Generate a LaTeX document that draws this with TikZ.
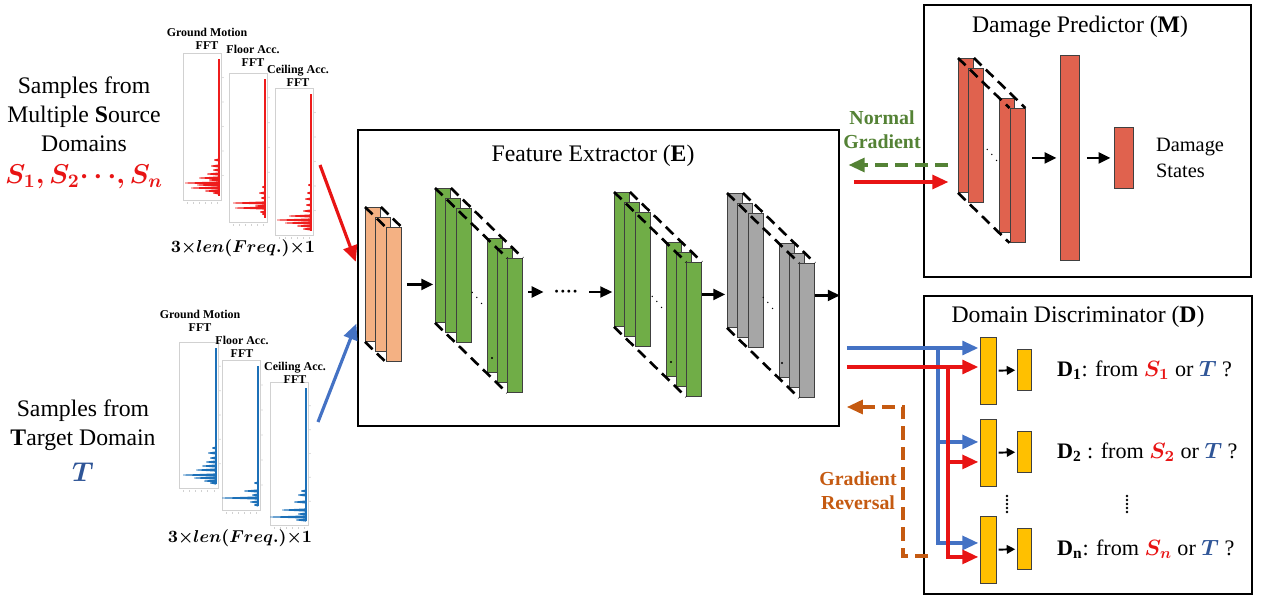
\documentclass[tikz,border=0pt]{standalone}
\usepackage{fix-cm}
\usepackage{amsmath,bm}
\usepackage{fontspec}
\setmainfont{Liberation Serif}
\usetikzlibrary{arrows.meta,positioning,calc}

\definecolor{srcred}{RGB}{232,20,20}
\definecolor{tgtblue}{RGB}{68,114,196}
\definecolor{symblue}{RGB}{47,85,151}
\definecolor{normgreen}{RGB}{84,130,53}
\definecolor{revbrown}{RGB}{197,90,17}
\definecolor{convorange}{RGB}{244,177,131}
\definecolor{convgreen}{RGB}{112,173,71}
\definecolor{convgray}{RGB}{166,166,166}
\definecolor{convred}{RGB}{224,98,78}
\definecolor{discyellow}{RGB}{255,192,0}
\definecolor{fftred}{RGB}{238,28,28}
\definecolor{fftblue}{RGB}{28,112,184}

\begin{document}
\begin{tikzpicture}[
  x=0.02cm, y=-0.02cm,
  >={Triangle[length=2.4mm,width=2.2mm]},
  node distance=4mm,
  panel/.style={draw, line width=1.1pt, anchor=north west, inner sep=0pt},
  heading/.style={font=\fontsize{13.5}{16.5}\selectfont, align=center},
  symb/.style={font=\fontsize{15.5}{18}\selectfont},
  plotlbl/.style={font=\bfseries\fontsize{6.8}{7.4}\selectfont, align=center, inner sep=0pt},
  dimlbl/.style={font=\fontsize{9.8}{11}\selectfont},
  fftbox/.style={draw=black!18, line width=0.4pt},
  slab/.style={draw=black!75, line width=0.5pt, fill=#1, anchor=north west,
               minimum width=0.3cm, minimum height=2.68cm, inner sep=0pt},
  bar/.style={slab=#1, minimum width=0.32cm, minimum height=1.34cm},
  depthline/.style={line width=1.5pt, dash pattern=on 6pt off 3.5pt},
  flow/.style={->, line width=1.3pt},
  sflow/.style={-{Triangle[length=1.7mm,width=1.7mm]}, line width=1.1pt},
  feed/.style={-{Triangle[length=3.2mm,width=2.8mm]}, line width=1.8pt},
  grad/.style={feed, dash pattern=on 7.5pt off 4pt},
  gradlbl/.style={font=\bfseries\fontsize{11.3}{13.8}\selectfont, align=center},
  qlbl/.style={font=\fontsize{12.6}{15}\selectfont},
  ellip/.style={font=\fontsize{7}{7}\selectfont, inner sep=0pt},
]
\useasboundingbox (0,0) rectangle (1261,595);

% ---- input samples (left column) -------------------------------------------
\node[heading] (srctxt) at (84,114) {Samples from\\Multiple \textbf{S}ource\\Domains};
\node[symb, text=srcred] (srcsym) at (84,177) {$\bm{S_1, S_2 \cdots, S_n}$};
\node[heading] (tgttxt) at (83,425) {Samples from\\\textbf{T}arget Domain};
\node[symb, text=symblue] (tgtsym) at (83,472) {$\bm{T}$};

% spectra: frame, axis ticks, signal and its peaks near the low end
\foreach \xa/\ya/\xb/\yb/\col/\spk in {
  183/53/221/200/fftred/{40/5,34/8,30/6,26/12,22/20,20/10,17/34,15/22,12/28,9/14,7/6},
  229/73/267/222/fftred/{35/3,29/6,24/4,19/32,16/10,14/30,10/5,8/3},
  275/88/313/235/fftred/{50/3,42/4,36/6,30/5,24/8,19/22,15/34,12/26,9/14,6/8},
  179/342/218/488/fftblue/{40/4,35/8,30/6,26/10,22/14,18/20,13/33,10/22,7/12,5/6},
  222/360/260/510/fftblue/{27/4,19/14,15/6,12/36,8/8,5/4},
  270/382/308/525/fftblue/{34/5,30/8,23/12,15/24,11/8,8/36,5/10}}
{
  \draw[fftbox] (\xa,\ya) rectangle (\xb,\yb);
  \foreach \tk in {0,...,5}
    \draw[fftbox] ({\xa+4+\tk*(\xb-\xa-8)/5},\yb+2) -- ++(0,2);
  \foreach \tk in {1,...,5}
    \fill[black!25] (\xb+2,{\ya+\tk*(\yb-\ya)/6}) circle (0.6);
  \draw[\col, line width=0.7pt] (\xb-2,\ya+6) -- (\xb-2,\yb-4);
  \foreach \dd/\len in \spk
    \fill[\col] (\xb-2,\yb-\dd-1.6) -- (\xb-2-\len,\yb-\dd-0.4) -- (\xb-2-\len,\yb-\dd+0.4)
      -- (\xb-2,\yb-\dd+1.6) -- cycle;
}

\node[plotlbl] (sgm) at (207,39) {Ground Motion\\FFT};
\node[plotlbl] (sfl) at (253,56) {Floor Acc.\\FFT};
\node[plotlbl] (sce) at (298,76) {Ceiling Acc.\\FFT};
\node[plotlbl] (tgm) at (200,321) {Ground Motion\\FFT};
\node[plotlbl] (tfl) at (242,347) {Floor Acc.\\FFT};
\node[plotlbl] (tce) at (295,373) {Ceiling Acc.\\FFT};
\node[dimlbl] (sdim) at (243,248) {$\bm{3{\times}len(Freq.){\times}1}$};
\node[dimlbl] (tdim) at (240,538) {$\bm{3{\times}len(Freq.){\times}1}$};

% ---- feature extractor -----------------------------------------------------
\node[panel, minimum width=9.62cm, minimum height=5.92cm] (fe) at (357,129) {};
\node[heading] (fetitle) at (593,156) {Feature Extractor (\textbf{E})};

% every stack: slices drawn back to front, index = depth step
\foreach \grp/\x/\y/\col/\lst in {or/365/207/convorange/{0,1,2},
    ga/435/188/convgreen/{0,1,2,5,6,7}, gb/614/192/convgreen/{0,1,2,5,6,7},
    gy/727/193/convgray/{0,1,2,5,6,7}, dp/958/58/convred/{0,1,4,5}}
  \foreach \i in \lst
    \node[slab=\col] (\grp\i) at ({\x+10.3*\i},{\y+10*\i}) {};

\foreach \grp/\last in {or/2, ga/7, gb/7, gy/7, dp/5} {
  \draw[depthline] (\grp0.north west) -- (\grp\last.north west);
  \draw[depthline] (\grp0.north east) -- (\grp\last.north east);
  \draw[depthline] (\grp0.south west) -- (\grp\last.south west);
  \coordinate (\grp-mid) at ($(\grp0.center)!0.5!(\grp\last.center)$);
}

\node[ellip] (gadots) at (477,293) {$\ddots$};
\node[ellip] (gbdots) at (657,297) {$\ddots$};
\node[ellip] (gydots) at (768,298) {$\ddots$};
\node[ellip] (dpdots) at (992,150) {$\ddots$};
\foreach \p in {(492,358),(671,362),(782,363)}
  \fill \p circle (1.1);

\node[inner sep=0pt, font=\fontsize{11}{11}\selectfont] (skip) at (566,292)
     {$\bm{{\cdot}{\cdot}{\cdot}{\cdot}}$};

\draw[flow, shorten <=3pt, shorten >=1pt] (or2.east |- or-mid) -- (ga0.west |- or-mid);
\draw[flow, shorten <=3pt, shorten >=5.5pt] (ga7.east |- skip) -- (skip.west);
\draw[flow, shorten <=6pt, shorten >=1pt] (skip.east) -- (skip.east -| gb0.west);
\draw[flow, shorten >=1pt] (gb7.east |- gb-mid) -- (gy0.west |- gb-mid);
\draw[flow] (gy7.east |- gy-mid) -- (fe.east |- gy-mid);

% inputs enter the extractor
\coordinate (srcfrom) at (320,165);
\coordinate (tgtfrom) at (318,422);
\draw[feed, srcred, shorten >=2pt] (srcfrom) -- (fe.west |- 0,265);
\draw[feed, tgtblue, shorten >=1pt] (tgtfrom) -- (fe.west |- 0,322);

% ---- damage predictor ------------------------------------------------------
\node[panel, minimum width=6.54cm, minimum height=5.44cm] (dpbox) at (923,4) {};
\node[heading] (dptitle) at (1080,27) {Damage Predictor (\textbf{M})};
\node[slab=convred, minimum width=0.38cm, minimum height=4.1cm] (fc) at (1060,55) {};
\node[slab=convred, minimum width=0.38cm, minimum height=1.22cm] (dpout) at (1114,127) {};
\draw[flow, shorten <=4pt, shorten >=2pt] (dp5.east |- fc) -- (fc.west);
\draw[flow, shorten <=4pt, shorten >=2pt] (fc.east |- dpout) -- (dpout.west);
\node[font=\fontsize{11.6}{14.8}\selectfont, align=left, right=3.2mm of dpout]
     (dpstates) {Damage\\States};

% features forward, normal gradient back
\draw[feed, srcred, shorten <=8pt, shorten >=5.5pt] (fe.east |- 0,182) -- (dp0.west |- 0,182);
\draw[grad, normgreen, shorten <=5.5pt, shorten >=5pt] (dp0.west |- 0,165) -- (fe.east |- 0,165);
\node[gradlbl, text=normgreen] (ngtxt) at (882,130) {Normal\\Gradient};

% ---- domain discriminator --------------------------------------------------
\node[panel, minimum width=6.56cm, minimum height=5.96cm] (ddbox) at (923,295) {};
\node[heading] (ddtitle) at (1078,317) {Domain Discriminator (\textbf{D})};
\foreach \k/\y in {1/337, 2/419, 3/516} {
  \node[bar=discyellow] (disc\k) at (980,\y) {};
  \node[bar=discyellow, minimum width=0.28cm, minimum height=0.82cm] (prob\k) at (1017,\y+12) {};
  \draw[sflow, shorten <=1pt, shorten >=1pt] (disc\k) -- (prob\k);
}
\node[qlbl, right=3.8mm of prob1] (q1)
     {\textbf{D\textsubscript{1}}: from \textcolor{srcred}{$\bm{S_1}$} or \textcolor{symblue}{$\bm{T}$} ?};
\node[qlbl, right=3.8mm of prob2] (q2)
     {\textbf{D\textsubscript{2}} : from \textcolor{srcred}{$\bm{S_2}$} or \textcolor{symblue}{$\bm{T}$} ?};
\node[qlbl, right=3.8mm of prob3] (q3)
     {\textbf{D\textsubscript{n}}: from \textcolor{srcred}{$\bm{S_n}$} or \textcolor{symblue}{$\bm{T}$} ?};
% the omitted discriminators
\foreach \x in {1007, 1127}
  \foreach \y in {496,500,...,512}
    \fill (\x,\y) circle (1.3);

% target and source features fan out to every discriminator
\coordinate (tfork) at (938,348);
\coordinate (sfork) at (948,367);
\draw[feed, tgtblue, shorten <=4pt, shorten >=1pt] (fe.east |- tfork) -- (disc1.west |- tfork);
\draw[feed, tgtblue, shorten >=1pt] (tfork) |- ($(disc2.west)+(0,-11)$);
\draw[feed, tgtblue, shorten >=1pt] (tfork) |- ($(disc3.west)+(0,-7)$);
\draw[feed, srcred, shorten <=4pt, shorten >=1pt] (fe.east |- sfork) -- (disc1.west |- sfork);
\draw[feed, srcred, shorten >=1pt] (sfork) |- ($(disc2.west)+(0,9)$);
\draw[feed, srcred, shorten >=1pt] (sfork) |- ($(disc3.west)+(0,7)$);

% reversed gradient back to the extractor
\coordinate (grfrom) at (928,556);
\coordinate (grturn) at (903,407);
\draw[grad, revbrown, shorten >=4pt] (grfrom) -| (grturn) -- (fe.east |- grturn);
\node[gradlbl, text=revbrown] (grtxt) at (858,491) {Gradient\\Reversal};
\end{tikzpicture}
\end{document}
